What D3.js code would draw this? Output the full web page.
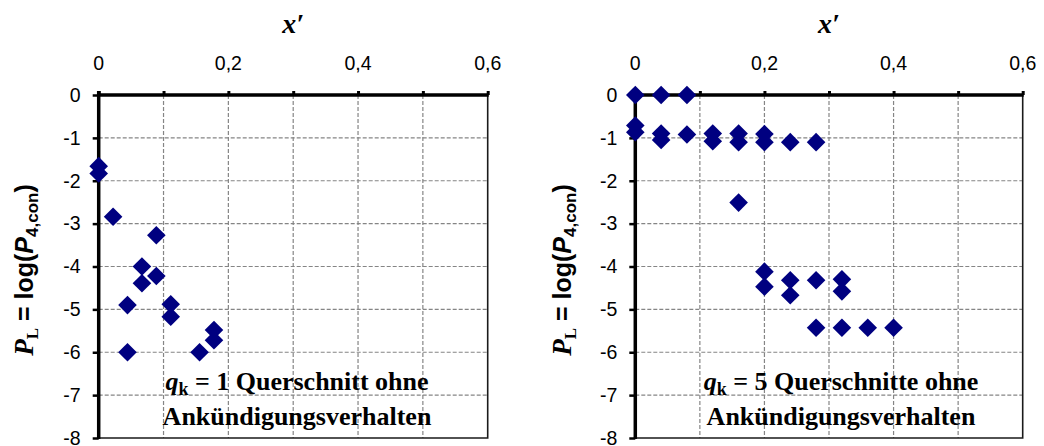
<!DOCTYPE html>
<html><head><meta charset="utf-8">
<script src="https://cdn.jsdelivr.net/npm/d3@7"></script>
<style>body{margin:0;background:#fff} svg{display:block}</style>
</head><body>
<svg id="c" width="1044" height="446"></svg>
<script>
// ---- data ----
const leftX  = [0, 0, 0.0222, 0.0889, 0.0667, 0.0667, 0.0889, 0.0444, 0.0444, 0.1111, 0.1111, 0.1556, 0.1778, 0.1778];
const leftY  = [-1.66, -1.83, -2.84, -3.27, -4.00, -4.39, -4.22, -4.90, -6.00, -4.88, -5.17, -6.00, -5.48, -5.72];
const rightX = [0, 0.04, 0.08, 0, 0, 0.04, 0.04, 0.08, 0.12, 0.12, 0.16, 0.16, 0.20, 0.20, 0.24, 0.28,
                0.16, 0.20, 0.20, 0.24, 0.24, 0.28, 0.32, 0.32, 0.28, 0.32, 0.36, 0.40];
const rightY = [0, 0, 0, -0.71, -0.87, -0.90, -1.05, -0.92, -0.90, -1.08, -0.90, -1.10, -0.91, -1.10, -1.10, -1.10,
                -2.51, -4.12, -4.47, -4.32, -4.67, -4.32, -4.30, -4.58, -5.43, -5.43, -5.43, -5.43];
const xLabelTicks = [0, 0.2, 0.4, 0.6];
const xMinorTicks = [0, 0.1, 0.2, 0.3, 0.4, 0.5, 0.6];
const yTicks = [0, -1, -2, -3, -4, -5, -6, -7, -8];
const leftNote  = ["1 Querschnitt ohne", "Ankündigungsverhalten"];
const rightNote = ["5 Querschnitte ohne", "Ankündigungsverhalten"];

const svg = d3.select("#c");
const SANS = "'Liberation Sans', Arial, sans-serif";
const SERIF = "'Liberation Serif', 'Times New Roman', serif";

function panel(x0, width, xs, ys, note, noteCx, titleX) {
  const y0 = 95, height = 343;
  const x = d3.scaleLinear().domain([0, 0.6]).range([x0, x0 + width]);
  const y = d3.scaleLinear().domain([0, -8]).range([y0, y0 + height]);
  const g = svg.append("g");

  // grid
  g.selectAll(".vg").data(xMinorTicks.filter(v => v > 0 && v < 0.6)).join("line")
    .attr("x1", d => x(d)).attr("x2", d => x(d)).attr("y1", y0).attr("y2", y0 + height)
    .attr("stroke", "#858585").attr("stroke-width", 1.2).attr("stroke-dasharray", "4,2");
  g.selectAll(".hg").data(yTicks.filter(v => v < 0 && v > -8)).join("line")
    .attr("x1", x0).attr("x2", x0 + width).attr("y1", d => y(d)).attr("y2", d => y(d))
    .attr("stroke", "#858585").attr("stroke-width", 1.2).attr("stroke-dasharray", "4,2");

  // right & bottom border
  g.append("path").attr("d", `M${x(0.6)},${y0}V${y(-8)}H${x0}`)
    .attr("fill", "none").attr("stroke", "#1a1a1a").attr("stroke-width", 1.6);

  // top axis
  const top = d3.axisTop(x).tickValues(xMinorTicks).tickSize(4).tickFormat("");
  const ta = g.append("g").attr("transform", `translate(0,${y0})`).call(top);
  ta.select(".domain").remove();
  ta.selectAll(".tick line").attr("stroke", "#000").attr("stroke-width", 3);
  g.append("line").attr("x1", x0 - 1.5).attr("x2", x(0.6) + 1).attr("y1", y0).attr("y2", y0)
    .attr("stroke", "#000").attr("stroke-width", 3.5);
  g.selectAll(".xl").data(xLabelTicks).join("text")
    .attr("x", d => x(d)).attr("y", 70).attr("text-anchor", "middle")
    .attr("font-family", SANS).attr("font-size", 19.5)
    .text(d => d === 0 ? "0" : String(d).replace(".", ","));

  // left axis
  const left = d3.axisLeft(y).tickValues(yTicks).tickSize(6).tickFormat("");
  const la = g.append("g").attr("transform", `translate(${x0},0)`).call(left);
  la.select(".domain").remove();
  la.selectAll(".tick line").attr("stroke", "#000").attr("stroke-width", 2.5);
  g.append("line").attr("x1", x0).attr("x2", x0).attr("y1", y0 - 4).attr("y2", y(-8) + 1)
    .attr("stroke", "#000").attr("stroke-width", 3.5);
  g.selectAll(".yl").data(yTicks).join("text")
    .attr("x", x0 - 18).attr("y", d => y(d)).attr("dy", "0.35em").attr("text-anchor", "end")
    .attr("font-family", SANS).attr("font-size", 19.5)
    .text(d => String(d));

  // x title
  g.append("text").attr("x", x0 + width / 2).attr("y", 33).attr("text-anchor", "middle")
    .attr("font-family", SERIF).attr("font-size", 28).attr("font-weight", "bold").attr("font-style", "italic")
    .text("x′");

  // y title
  const yt = g.append("text").attr("transform", `translate(${titleX},270) rotate(-90)`)
    .attr("text-anchor", "middle").attr("font-weight", "bold").attr("font-size", 25).attr("font-family", SANS);
  yt.append("tspan").attr("font-family", SERIF).attr("font-style", "italic").attr("font-size", 27).text("P");
  yt.append("tspan").attr("font-family", SERIF).attr("font-size", 17).attr("dy", 5).text("L");
  yt.append("tspan").attr("dy", -5).text(" = log(");
  yt.append("tspan").attr("font-style", "italic").text("P");
  yt.append("tspan").attr("font-size", 17).attr("dy", 5).text("4,con");
  yt.append("tspan").attr("dy", -5).text(")");

  // data
  g.selectAll(".pt").data(xs.map((v, i) => [v, ys[i]])).join("path")
    .attr("transform", d => `translate(${x(d[0])},${y(d[1])})`)
    .attr("d", "M0,-9.3L9.3,0L0,9.3L-9.3,0Z").attr("fill", "#000080");

  // note
  const n1 = g.append("text").attr("x", noteCx).attr("y", 390).attr("text-anchor", "middle")
    .attr("font-family", SERIF).attr("font-weight", "bold").attr("font-size", 26);
  n1.append("tspan").attr("font-style", "italic").text("q");
  n1.append("tspan").attr("font-size", 18).attr("dy", 5).text("k");
  n1.append("tspan").attr("dy", -5).text(" = " + note[0]);
  g.append("text").attr("x", noteCx).attr("y", 425).attr("text-anchor", "middle")
    .attr("font-family", SERIF).attr("font-weight", "bold").attr("font-size", 26)
    .text(note[1]);
}

panel(98.7, 389, leftX, leftY, leftNote, 297, 33);
panel(635.3, 387.4, rightX, rightY, rightNote, 841, 571);
</script>
</body></html>
